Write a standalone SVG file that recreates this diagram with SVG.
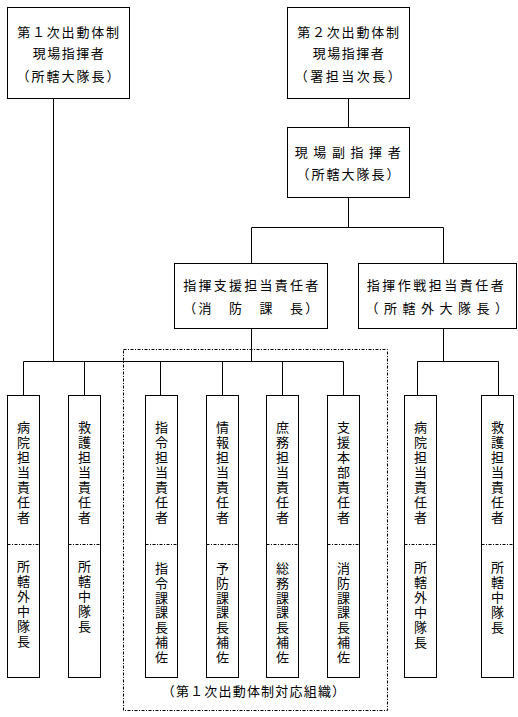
<svg xmlns="http://www.w3.org/2000/svg" width="518" height="717" viewBox="0 0 518 717">
<style>
.bx{fill:#fff;stroke:#000;stroke-width:1}
.ln{fill:none;stroke:#000;stroke-width:1}
.dt{fill:none;stroke:#000;stroke-width:1;stroke-dasharray:3 1.5 1 1.5}
text{font-family:"Noto Sans CJK JP","Noto Sans CJK SC",sans-serif;font-size:13px;fill:#000}
.m{text-anchor:middle}
.v{writing-mode:vertical-rl;text-orientation:upright;letter-spacing:2px}
.w{writing-mode:vertical-rl;text-orientation:upright;letter-spacing:1.8px}
</style>
<rect width="518" height="717" fill="#fff"/>
<g id="connectors">
<path class="ln" d="M53.5 98.5V361.5M348.5 98.5V127.5M348.5 197.5V227.5M251.5 227.5H443.5M251.5 227.5V263.5M443.5 227.5V263.5M251.5 328.5V361.5M23.5 361.5H343.5M23.5 361.5V395.5M84.5 361.5V395.5M160.5 361.5V395.5M222.5 361.5V395.5M282.5 361.5V395.5M343.5 361.5V395.5M443.5 328.5V361.5M417.5 361.5H498.5M417.5 361.5V395.5M498.5 361.5V395.5"/>
</g>
<g id="group1">
<rect class="dt" x="123.5" y="349.5" width="264" height="361"/>
<text class="m" x="254" y="696" style="letter-spacing:1.2px">（第１次出動体制対応組織）</text>
</g>
<g id="n1">
<rect class="bx" x="7.5" y="7.5" width="122" height="91"/>
<text class="m" x="69" y="37" style="letter-spacing:1.8px">第１次出動体制</text>
<text class="m" x="69" y="58" style="letter-spacing:1.5px">現場指揮者</text>
<text class="m" x="69" y="80.5" style="letter-spacing:2px">（所轄大隊長）</text>
</g>
<g id="n2">
<rect class="bx" x="287.5" y="7.5" width="122" height="91"/>
<text class="m" x="349" y="37" style="letter-spacing:1.8px">第２次出動体制</text>
<text class="m" x="349" y="58" style="letter-spacing:1.5px">現場指揮者</text>
<text class="m" x="349" y="80.5" style="letter-spacing:2.5px">（署担当次長）</text>
</g>
<g id="n3">
<rect class="bx" x="287.5" y="127.5" width="122" height="70"/>
<text class="m" x="350.5" y="156.5" style="letter-spacing:5.6px">現場副指揮者</text>
<text class="m" x="349" y="178.5" style="letter-spacing:2px">（所轄大隊長）</text>
</g>
<g id="n4">
<rect class="bx" x="174.5" y="263.5" width="153" height="65"/>
<text class="m" x="252" y="290" style="letter-spacing:2.25px">指揮支援担当責任者</text>
<text class="m" x="252" y="313" style="letter-spacing:2.25px">（消　防　課　長）</text>
</g>
<g id="n5">
<rect class="bx" x="358.5" y="263.5" width="158" height="65"/>
<text class="m" x="436.5" y="290" style="letter-spacing:2.5px">指揮作戦担当責任者</text>
<text class="m" x="439.5" y="313" style="letter-spacing:5.5px">（所轄外大隊長）</text>
</g>
<g id="v1">
<rect class="bx" x="7.5" y="395.5" width="32" height="282"/>
<path class="dt" d="M7.5 544.5H39.5"/>
<text class="v" x="23.5" y="420.5">病院担当責任者</text>
<text class="v" x="23.5" y="559.5">所轄外中隊長</text>
</g>
<g id="v2">
<rect class="bx" x="68.5" y="395.5" width="32" height="282"/>
<path class="dt" d="M68.5 544.5H100.5"/>
<text class="v" x="84.5" y="420.5">救護担当責任者</text>
<text class="v" x="84.5" y="559.5">所轄中隊長</text>
</g>
<g id="v3">
<rect class="bx" x="145.5" y="395.5" width="32" height="282"/>
<path class="dt" d="M145.5 544.5H177.5"/>
<text class="v" x="161.5" y="420.5">指令担当責任者</text>
<text class="w" x="161.5" y="561.5">指令課課長補佐</text>
</g>
<g id="v4">
<rect class="bx" x="206.5" y="395.5" width="32" height="282"/>
<path class="dt" d="M206.5 544.5H238.5"/>
<text class="v" x="222.5" y="420.5">情報担当責任者</text>
<text class="w" x="222.5" y="561.5">予防課課長補佐</text>
</g>
<g id="v5">
<rect class="bx" x="266.5" y="395.5" width="32" height="282"/>
<path class="dt" d="M266.5 544.5H298.5"/>
<text class="v" x="282.5" y="420.5">庶務担当責任者</text>
<text class="w" x="282.5" y="561.5">総務課課長補佐</text>
</g>
<g id="v6">
<rect class="bx" x="327.5" y="395.5" width="32" height="282"/>
<path class="dt" d="M327.5 544.5H359.5"/>
<text class="v" x="343.5" y="420.5">支援本部責任者</text>
<text class="w" x="343.5" y="561.5">消防課課長補佐</text>
</g>
<g id="v7">
<rect class="bx" x="404.5" y="395.5" width="32" height="282"/>
<path class="dt" d="M404.5 544.5H436.5"/>
<text class="v" x="420.5" y="420.5">病院担当責任者</text>
<text class="v" x="420.5" y="560.5">所轄外中隊長</text>
</g>
<g id="v8">
<rect class="bx" x="481.5" y="395.5" width="32" height="282"/>
<path class="dt" d="M481.5 544.5H513.5"/>
<text class="v" x="497.5" y="420.5">救護担当責任者</text>
<text class="v" x="497.5" y="560.5">所轄中隊長</text>
</g>
</svg>
